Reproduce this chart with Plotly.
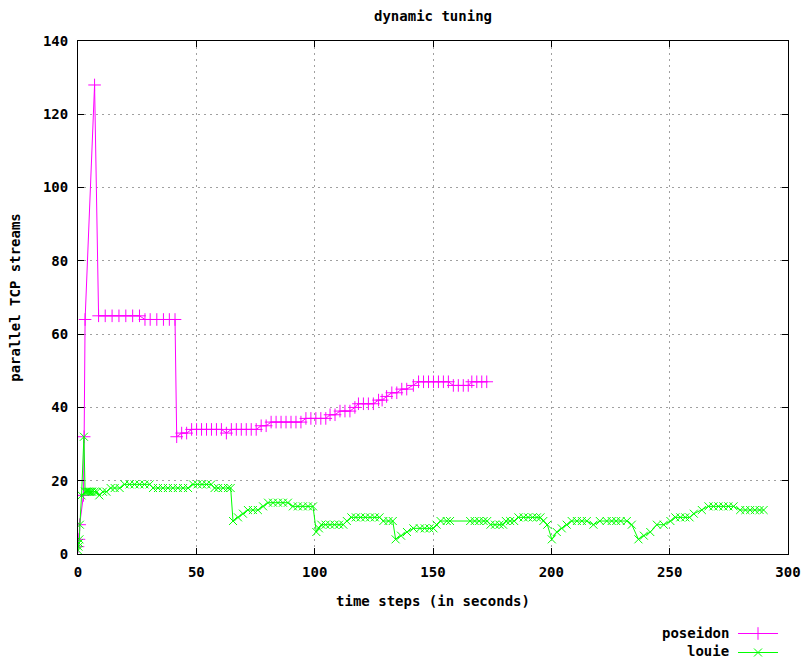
import plotly.graph_objects as go

# ---- data ----
poseidon_t = [0, 0.4, 0.7, 2.3, 2.6, 3.0, 7.0, 8.7, 11.5, 14.4,
              17.3, 20.2, 23.1, 26.0, 28.3, 30.5, 33.3, 36.1, 38.6, 41.0,
              41.7, 43.8, 45.9, 48.0, 50.1, 52.2, 54.3, 56.4, 58.5, 60.6,
              62.7, 64.8, 66.9, 69.0, 71.1, 73.2, 75.3, 77.4, 79.5, 81.6,
              83.7, 85.8, 87.9, 90.0, 92.1, 94.2, 96.3, 98.4, 100.5, 102.6,
              104.7, 106.5, 108.6, 110.7, 112.8, 114.9, 117.0, 118.5, 120.6, 122.7,
              124.8, 127.0, 128.5, 130.4, 132.6, 134.7, 136.8, 138.9, 141.7, 143.9,
              146.0, 148.1, 150.2, 152.3, 154.4, 156.5, 158.6, 160.7, 162.8, 164.9,
              166.4, 168.5, 170.6, 172.7]
poseidon_v = [2, 4, 8, 16, 32, 64, 128, 65, 65, 65,
              65, 65, 65, 65, 64, 64, 64, 64, 64, 64,
              32, 33, 33, 34, 34, 34, 34, 34, 34, 34,
              33, 34, 34, 34, 34, 34, 34, 35, 35, 36,
              36, 36, 36, 36, 36, 36, 37, 37, 37, 37,
              37, 38, 38, 39, 39, 39, 40, 41, 41, 41,
              41, 42, 42, 43, 44, 44, 45, 45, 46, 47,
              47, 47, 47, 47, 47, 47, 46, 46, 46, 46,
              47, 47, 47, 47]

louie_t = [0, 0.2, 0.4, 0.6, 0.8, 1.5, 2.5, 3.0, 3.5, 4.0,
           4.5, 5.0, 5.5, 6.0, 7.0, 8.0, 9.0, 10.5, 12.0, 13.8,
           15.5, 17.6, 19.7, 21.8, 23.9, 26.0, 28.1, 30.3, 31.7, 33.8,
           35.9, 38.0, 40.1, 42.2, 44.4, 46.5, 48.6, 50.5, 52.4, 54.3,
           56.3, 57.7, 59.2, 61.3, 63.4, 64.5, 65.5, 67.6, 69.7, 71.8,
           73.9, 76.0, 78.2, 80.3, 82.4, 84.5, 86.6, 88.7, 90.8, 92.9,
           95.0, 97.2, 99.3, 100.7, 101.8, 102.8, 104.6, 106.5, 108.4, 110.3,
           112.1, 113.6, 115.5, 117.4, 119.4, 121.4, 123.4, 125.4, 127.4, 129.0,
           131.2, 133.0, 134.2, 136.5, 139.0, 141.7, 144.5, 146.5, 148.5, 150.2,
           151.5, 153.2, 155.8, 157.2, 165.7, 167.6, 169.5, 171.4, 172.9, 174.3,
           176.2, 178.1, 179.6, 180.8, 182.6, 184.3, 186.1, 188.3, 190.2, 192.1,
           193.9, 195.4, 196.6, 198.3, 200.2, 202.3, 204.4, 206.5, 208.6, 210.8,
           212.9, 215.0, 217.8, 220.5, 223.4, 225.5, 227.4, 229.3, 231.9, 234.0,
           236.8, 239.1, 241.8, 244.6, 247.5, 250.3, 252.4, 254.5, 256.6, 258.4,
           260.2, 263.6, 266.4, 268.5, 270.6, 272.7, 274.8, 277.0, 279.8, 282.0,
           284.0, 286.0, 288.0, 289.7]
louie_v = [1, 2, 3, 4, 8, 16, 32, 17, 17, 17,
           17, 17, 17, 17, 17, 17, 16, 17, 17, 18,
           18, 18, 19, 19, 19, 19, 19, 19, 18, 18,
           18, 18, 18, 18, 18, 18, 19, 19, 19, 19,
           19, 18, 18, 18, 18, 18, 9, 10, 11, 12,
           12, 12, 13, 14, 14, 14, 14, 14, 13, 13,
           13, 13, 13, 6, 7, 8, 8, 8, 8, 8,
           8, 9, 10, 10, 10, 10, 10, 10, 10, 9,
           9, 9, 4, 5, 6, 7, 7, 7, 7, 7,
           8, 9, 9, 9, 9, 9, 9, 9, 9, 8,
           8, 8, 8, 9, 9, 9, 10, 10, 10, 10,
           10, 10, 9, 8, 4, 6, 7, 8, 9, 9,
           9, 9, 8, 9, 9, 9, 9, 9, 9, 8,
           4, 5, 6, 8, 8, 9, 10, 10, 10, 10,
           11, 12, 13, 13, 13, 13, 13, 13, 12, 12,
           12, 12, 12, 12]

series_names = ["poseidon", "louie"]
x_ticks = [0, 50, 100, 150, 200, 250, 300]
y_ticks = [0, 20, 40, 60, 80, 100, 120, 140]

FONT = "DejaVu Sans Mono"
TXT = dict(family=FONT, size=14, color="black", weight="bold")

W, H = 805, 663
L, R, T, B = 78, 17, 41, 109
PW, PH = W - L - R, H - T - B


def px_x(sx):  # page x -> paper x
    return (sx - L) / PW


def px_y(sy):  # page y -> paper y
    return (H - B - sy) / PH


fig = go.Figure()
fig.add_trace(go.Scatter(
    x=poseidon_t, y=poseidon_v, name=" ", mode="lines+markers",
    hovertemplate=series_names[0] + ": %{x}, %{y}<extra></extra>",
    line=dict(color="#ff00ff", width=1),
    marker=dict(symbol="cross-thin", size=9, line=dict(color="#ff00ff", width=1)),
))
fig.add_trace(go.Scatter(
    x=louie_t, y=louie_v, name="  ", mode="lines+markers",
    hovertemplate=series_names[1] + ": %{x}, %{y}<extra></extra>",
    line=dict(color="#00ff00", width=1),
    marker=dict(symbol="x-thin", size=8, line=dict(color="#00ff00", width=1)),
))

axis_common = dict(
    showline=True, linecolor="black", linewidth=1, mirror="ticks",
    ticks="inside", ticklen=6, tickcolor="black",
    showgrid=True, gridcolor="#a0a0a0", gridwidth=1, griddash="2px,4px",
    zeroline=False, automargin=False,
    tickfont=TXT,
)

# legend labels, right-aligned to the left of the key samples (gnuplot style)
annotations = [
    dict(text=series_names[0], xref="paper", yref="paper", x=px_x(731), y=px_y(633),
         xanchor="right", yanchor="middle", showarrow=False, font=TXT),
    dict(text=series_names[1], xref="paper", yref="paper", x=px_x(731), y=px_y(651),
         xanchor="right", yanchor="middle", showarrow=False, font=TXT),
]

fig.update_layout(
    width=W, height=H,
    margin=dict(l=L, r=R, t=T, b=B, autoexpand=False),
    paper_bgcolor="white", plot_bgcolor="white",
    title=dict(text="dynamic tuning", x=(L + PW / 2) / W, xanchor="center",
               y=1 - 16 / H, yanchor="middle", font=TXT),
    xaxis=dict(range=[0, 300], tickvals=x_ticks, ticktext=[str(v) for v in x_ticks],
               ticklabelstandoff=5,
               title=dict(text="time steps (in seconds)", standoff=17, font=TXT),
               **axis_common),
    yaxis=dict(range=[0, 140], tickvals=y_ticks, ticktext=[str(v) for v in y_ticks],
               ticklabelstandoff=6,
               title=dict(text="parallel TCP streams", standoff=19, font=TXT),
               **axis_common),
    legend=dict(x=px_x(733), xanchor="left", y=px_y(619), yanchor="top",
                font=dict(family=FONT, size=10, color="black"),
                bgcolor="rgba(0,0,0,0)", tracegroupgap=0, itemwidth=40),
    showlegend=True,
    annotations=annotations,
)

# remove the browser's default page margin so the figure fills the window exactly
fig.write_html(
    "out.html",
    config={"displayModeBar": False},
    post_script="document.body.style.margin='0';document.body.style.overflow='hidden';",
)
